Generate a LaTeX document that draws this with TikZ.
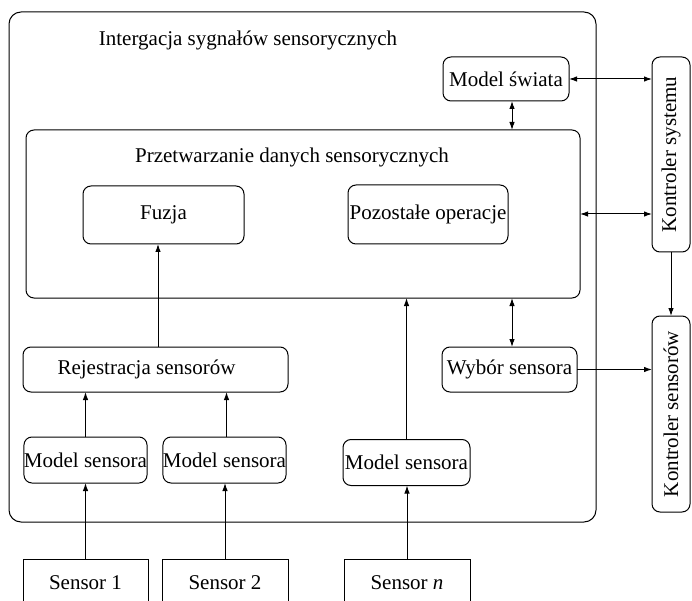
\documentclass[tikz,border=0pt]{standalone}
\usepackage{fontspec}
\setmainfont{Liberation Serif}
\usetikzlibrary{arrows.meta}
\begin{document}
\begin{tikzpicture}[x=1pt,y=-1pt,
  line width=1pt,
  font=\fontsize{21}{25}\selectfont,
  box/.style={draw, rounded corners=8pt, inner sep=0pt, outer sep=0pt, align=center},
  sqbox/.style={draw, inner sep=0pt, outer sep=0pt},
  arr/.style={-{Latex[length=8pt,width=5.5pt]}},
  darr/.style={{Latex[length=8pt,width=5.5pt]}-{Latex[length=8pt,width=5.5pt]}}]
\useasboundingbox (0,0) rectangle (692,601);
\clip (0,0) rectangle (692,601);

% outer integration block
\node[box, rounded corners=12pt, minimum width=587pt, minimum height=510pt] (outer) at (302.5,267) {};
\node (title) at (248,40) {Intergacja sygnałów sensorycznych};

% processing block
\node[box, minimum width=554pt, minimum height=168pt] (prz) at (303,214) {};
\node (przt) at (292,157) {Przetwarzanie danych sensorycznych};
\node[box, minimum width=161pt, minimum height=58pt] (fuz) at (163.5,215) {Fuzja};
\node[box, minimum width=160pt, minimum height=59pt] (poz) at (428,214.5) {Pozostałe operacje};

\node[box, minimum width=126pt, minimum height=44pt] (msw) at (506,79) {Model świata};

% controllers (rotated: north anchor faces left, west anchor faces down)
\node[box, rotate=90, minimum width=195pt, minimum height=38pt] (ks) at (671,154.5) {Kontroler systemu};
\node[box, rotate=90, minimum width=196pt, minimum height=38pt] (ksen) at (671,414) {Kontroler sensorów};

% registration and selection
\node[box, minimum width=265pt, minimum height=45pt] (rej) at (155.5,369.5) {Rejestracja sensorów\hspace*{18pt}};
\node[box, minimum width=135pt, minimum height=45pt] (wyb) at (509.5,369.5) {Wybór sensora};

% sensor models
\node[box, minimum width=123pt, minimum height=46pt] (m1) at (85.5,460) {Model sensora};
\node[box, minimum width=123pt, minimum height=46pt] (m2) at (224.5,460) {Model sensora};
\node[box, minimum width=127pt, minimum height=46pt] (m3) at (406.5,462.5) {Model sensora};

% physical sensors
\node[sqbox, minimum width=125pt, minimum height=48pt] (s1) at (85.5,583) {Sensor 1};
\node[sqbox, minimum width=126pt, minimum height=48pt] (s2) at (225,583) {Sensor 2};
\node[sqbox, minimum width=126pt, minimum height=48pt] (sn) at (407,583) {Sensor \textit{n}};

% connectors
\draw[darr] (msw.east) -- (msw.east -| ks.north);
\draw[darr] ([xshift=6pt]msw.south) -- ([xshift=6pt]msw.south |- prz.north);
\draw[darr] (prz.east) -- (prz.east -| ks.north);
\draw[arr] (ks.west) -- (ksen.east);
\draw[arr] ([xshift=2.5pt]rej.north) -- ([xshift=2.5pt]rej.north |- fuz.south);
\draw[arr] (m1.north) -- (m1.north |- rej.south);
\draw[arr] ([xshift=2pt]m2.north) -- ([xshift=2pt]m2.north |- rej.south);
\draw[arr] (m3.north) -- (m3.north |- prz.south);
\draw[darr] ([xshift=2.5pt]wyb.north) -- ([xshift=2.5pt]wyb.north |- prz.south);
\draw[arr] (wyb.east) -- (wyb.east -| ksen.north);
\draw[arr] (s1.north) -- (s1.north |- m1.south);
\draw[arr] (s2.north) -- (s2.north |- m2.south);
\draw[arr] (sn.north) -- (sn.north |- m3.south);
\end{tikzpicture}
\end{document}
